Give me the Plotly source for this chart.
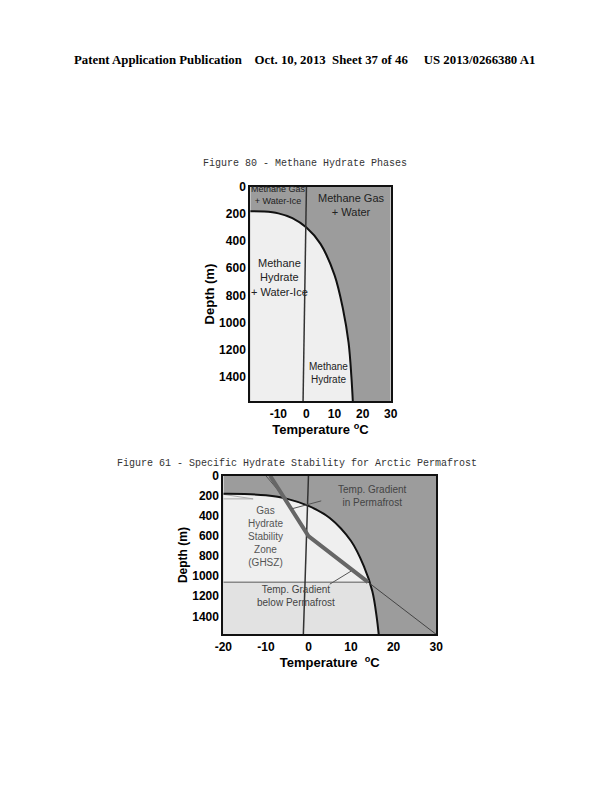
import plotly.graph_objects as go

# Hydrate stability curve (temperature C, depth m)
curve_t = [-20, -15, -10, -5, 0, 5, 10, 13, 15, 16, 16.5]
curve_d = [180, 182, 195, 230, 300, 420, 650, 900, 1150, 1400, 1580]
# Ice/water boundary
ice_t = [0, -1.2]
ice_d = [0, 1580]
# Permafrost gradient (thick) and below-permafrost gradient (thin)
perm_t = [-9, -6, 0, 14]
perm_d = [0, 200, 600, 1060]
below_t = [14, 30]
below_d = [1060, 1580]
base_depth = 1060
xticks = [-20, -10, 0, 10, 20, 30]
xlabels_top = ["", "-10", "0", "10", "20", "30"]
xlabels_bot = ["-20", "-10", "0", "10", "20", "30"]
yticks = [0, 200, 400, 600, 800, 1000, 1200, 1400]

DARK = "#9c9c9c"
LIGHT = "#efefef"
fig = go.Figure()

def add_chart(xr, yr, bottom):
    fig.add_trace(go.Scatter(x=[-20, 30, 30, -20, -20], y=[0, 0, 1580, 1580, 0], fill="toself",
                             fillcolor=DARK, line=dict(width=0), mode="lines", xaxis=xr, yaxis=yr, hoverinfo="skip"))
    fig.add_trace(go.Scatter(x=curve_t + [-20, -20], y=curve_d + [1580, 180], fill="toself",
                             fillcolor=LIGHT, line=dict(width=0), mode="lines", xaxis=xr, yaxis=yr, hoverinfo="skip"))
    if bottom:
        bt = [t for t, d in zip(curve_t, curve_d) if d >= base_depth]
        bd = [d for d in curve_d if d >= base_depth]
        fig.add_trace(go.Scatter(x=[-20, 14.2] + bt + [-20, -20], y=[base_depth, base_depth] + bd + [1580, base_depth],
                                 fill="toself", fillcolor="#e2e2e2", line=dict(width=0), mode="lines",
                                 xaxis=xr, yaxis=yr, hoverinfo="skip"))
        fig.add_trace(go.Scatter(x=[-20, 14.2], y=[base_depth, base_depth], mode="lines",
                                 line=dict(color="#888", width=1.5), xaxis=xr, yaxis=yr))
        fig.add_trace(go.Scatter(x=[-20, -13, -20], y=[185, 230, 230], mode="lines",
                                 line=dict(color="#aaa", width=1), xaxis=xr, yaxis=yr))
    fig.add_trace(go.Scatter(x=curve_t, y=curve_d, mode="lines", line=dict(color="#111", width=2, shape="spline"),
                             xaxis=xr, yaxis=yr))
    fig.add_trace(go.Scatter(x=ice_t, y=ice_d, mode="lines", line=dict(color="#333", width=1.5),
                             xaxis=xr, yaxis=yr))
    if bottom:
        fig.add_trace(go.Scatter(x=[-10] + perm_t[1:], y=[0] + perm_d[1:], mode="lines",
                                 line=dict(color="#555", width=1), xaxis=xr, yaxis=yr))
        fig.add_trace(go.Scatter(x=perm_t, y=perm_d, mode="lines", line=dict(color="#666", width=4),
                                 xaxis=xr, yaxis=yr))
        fig.add_trace(go.Scatter(x=below_t, y=below_d, mode="lines", line=dict(color="#444", width=1),
                                 xaxis=xr, yaxis=yr))
        fig.add_trace(go.Scatter(x=[-4, 3], y=[330, 250], mode="lines", line=dict(color="#555", width=1),
                                 xaxis=xr, yaxis=yr))
        fig.add_trace(go.Scatter(x=[5, 10], y=[1080, 950], mode="lines", line=dict(color="#555", width=1),
                                 xaxis=xr, yaxis=yr))

add_chart("x", "y", False)
add_chart("x2", "y2", True)

tf = dict(family="Liberation Sans", size=12, color="#000")
axcommon = dict(ticks="", showgrid=False, zeroline=False, showline=True, linecolor="#111",
                linewidth=2, mirror=True, tickfont=tf)
ttl = lambda t, s: dict(text=t, font=dict(family="Liberation Sans", size=s, color="#000"), standoff=2)
fig.update_layout(
    width=614, height=792, margin=dict(l=0, r=0, t=0, b=0), showlegend=False,
    paper_bgcolor="white", plot_bgcolor="white",
    xaxis=dict(axcommon, domain=[0.39, 0.625], range=[-20, 30], anchor="y", tickvals=xticks,
               ticktext=["<b>%s</b>" % s for s in xlabels_top], title=ttl("<b>Temperature <sup>o</sup>C</b>", 13)),
    yaxis=dict(axcommon, domain=[0.508, 0.781], range=[1580, 0], anchor="x", tickvals=yticks,
               ticktext=["<b>%d</b>" % v for v in yticks], title=ttl("<b>Depth (m)</b>", 13)),
    xaxis2=dict(axcommon, domain=[0.345, 0.701], range=[-20, 30], anchor="y2", tickvals=xticks,
                ticktext=["<b>%s</b>" % s for s in xlabels_bot], title=ttl("<b>Temperature  <sup>o</sup>C</b>", 13)),
    yaxis2=dict(axcommon, domain=[0.211, 0.413], range=[1580, 0], anchor="x2", tickvals=yticks,
                ticktext=["<b>%d</b>" % v for v in yticks], title=ttl("<b>Depth (m)</b>", 12)),
)

ann = []
def A(x, y, text, size=10, xref="paper", yref="paper", font="Liberation Sans", color="#222", **kw):
    ann.append(dict(x=x, y=y, xref=xref, yref=yref, text=text, showarrow=False, yanchor="middle",
                    font=dict(family=font, size=size, color=color), **kw))

A(0.481, 1 - 45/792, "<b>Patent Application Publication&nbsp;&nbsp;&nbsp;&nbsp;Oct. 10, 2013&nbsp;&nbsp;Sheet 37 of 46&nbsp;&nbsp;&nbsp;&nbsp;&nbsp;US 2013/0266380 A1</b>",
  size=12.8, font="Liberation Serif", color="#000")
A(0.481, 1 - 150/792, "Figure 80 - Methane Hydrate Phases", size=10, font="Liberation Mono", color="#333")
A(0.468, 1 - 452/792, "Figure 61 - Specific Hydrate Stability for Arctic Permafrost", size=10, font="Liberation Mono", color="#333")
A(-10, 60, "Methane Gas<br>+ Water-Ice", size=9, xref="x", yref="y")
A(16, 130, "Methane Gas<br>+ Water", size=11, xref="x", yref="y")
A(-9.5, 670, "Methane<br>Hydrate<br>+ Water-Ice", size=11, xref="x", yref="y")
A(8, 1370, "Methane<br>Hydrate", size=10, xref="x", yref="y")
A(15, 200, "Temp. Gradient<br>in Permafrost", size=10, xref="x2", yref="y2", color="#444")
A(-10, 600, "Gas<br>Hydrate<br>Stability<br>Zone<br>(GHSZ)", size=10, xref="x2", yref="y2", color="#555")
A(-3, 1200, "Temp. Gradient<br>below Permafrost", size=10, xref="x2", yref="y2", color="#444")
fig.update_layout(annotations=ann)
fig.write_html("out.html")
